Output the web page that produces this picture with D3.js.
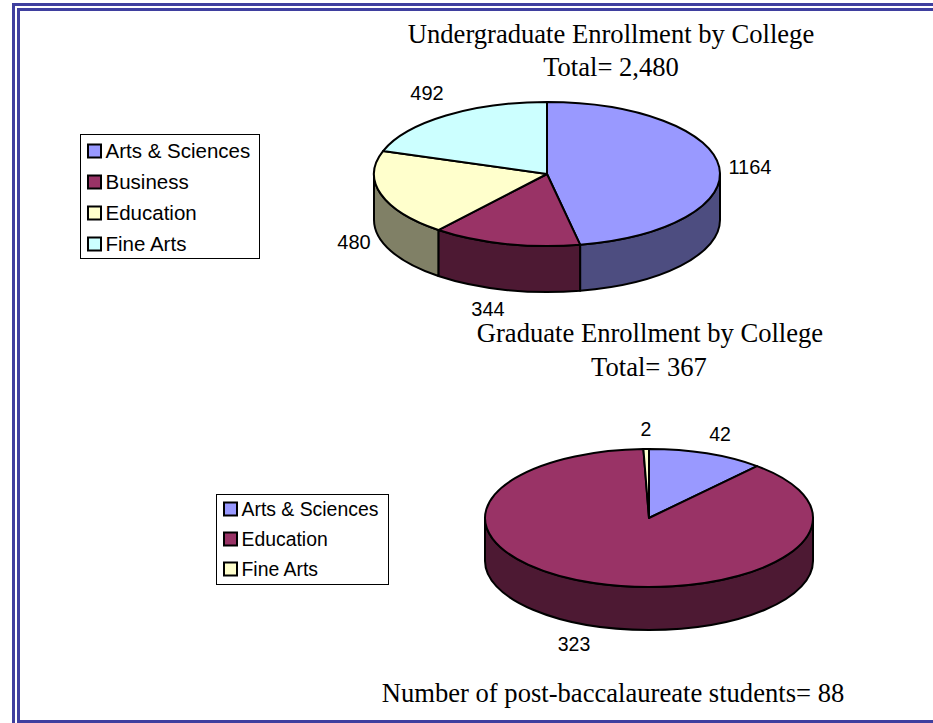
<!DOCTYPE html>
<html>
<head>
<meta charset="utf-8">
<script src="https://cdn.jsdelivr.net/npm/d3@7"></script>
<style>
  html, body { margin: 0; padding: 0; background: #fff; overflow: hidden; }
  svg { display: block; }
</style>
</head>
<body>
<div id="chart"></div>
<script>
// Data
const underCategories = ["Arts & Sciences", "Business", "Education", "Fine Arts"];
const underValues = [1164, 344, 480, 492];
const underColors = ["#9999ff", "#993366", "#ffffcc", "#ccffff"];
const underSides = ["#4d4d80", "#4d1933", "#808066", "#668080"];

const gradCategories = ["Arts & Sciences", "Education", "Fine Arts"];
const gradValues = [42, 323, 2];
const gradColors = ["#9999ff", "#993366", "#ffffcc"];
const gradSides = ["#4d4d80", "#4d1933", "#808066"];

const width = 933, height = 723;

const svg = d3.select("#chart")
  .append("svg")
  .attr("width", width)
  .attr("height", height);

// Double page border, right and bottom run off the page
svg.append("rect")
  .attr("x", 13.5).attr("y", 4.5)
  .attr("width", 960).attr("height", 760)
  .attr("fill", "none").attr("stroke", "#3f3f9f").attr("stroke-width", 3);
svg.append("rect")
  .attr("x", 18.5).attr("y", 9.5)
  .attr("width", 960).attr("height", 712)
  .attr("fill", "none").attr("stroke", "#3f3f9f").attr("stroke-width", 3);

// Flattened 3D pie, angles come from d3.pie
function drawPie(opts) {
  const g = svg.append("g").attr("transform", `translate(${opts.cx}, ${opts.cy})`);
  const arcs = d3.pie().sort(null)(opts.values);
  const px = a => opts.rx * Math.sin(a);
  const py = a => -opts.ry * Math.cos(a);

  function rimPath(a0, a1, dy) {
    const large = a1 - a0 > Math.PI ? 1 : 0;
    return `M${px(a0)},${py(a0) + dy}A${opts.rx},${opts.ry} 0 ${large} 1 ${px(a1)},${py(a1) + dy}`;
  }

  // Walls only on the front half of the ellipse
  arcs.forEach(function (d, i) {
    const a0 = Math.max(d.startAngle, Math.PI / 2);
    const a1 = Math.min(d.endAngle, 3 * Math.PI / 2);
    if (a1 <= a0) return;
    const top = rimPath(a0, a1, 0);
    const back = `A${opts.rx},${opts.ry} 0 ${a1 - a0 > Math.PI ? 1 : 0} 0 ${px(a0)},${py(a0) + opts.depth}`;
    g.append("path")
      .attr("d", `${top}L${px(a1)},${py(a1) + opts.depth}${back}Z`)
      .attr("fill", opts.sides[i])
      .attr("stroke", "#000").attr("stroke-width", 2).attr("stroke-linejoin", "round");
  });

  // Top faces
  arcs.forEach(function (d, i) {
    const large = d.endAngle - d.startAngle > Math.PI ? 1 : 0;
    g.append("path")
      .attr("d", `M0,0L${px(d.startAngle)},${py(d.startAngle)}A${opts.rx},${opts.ry} 0 ${large} 1 ${px(d.endAngle)},${py(d.endAngle)}Z`)
      .attr("fill", opts.colors[i])
      .attr("stroke", "#000").attr("stroke-width", 2).attr("stroke-linejoin", "round");
  });

  // Value labels
  opts.values.forEach(function (v, i) {
    svg.append("text")
      .attr("x", opts.labels[i][0]).attr("y", opts.labels[i][1])
      .attr("text-anchor", "middle")
      .attr("font-family", "Liberation Sans, Arial, sans-serif")
      .attr("font-size", opts.labelSize)
      .attr("fill", "#000")
      .text(v);
  });
}

function drawLegend(opts) {
  svg.append("rect")
    .attr("x", opts.x + 0.5).attr("y", opts.y + 0.5)
    .attr("width", opts.w).attr("height", opts.h)
    .attr("fill", "#fff").attr("stroke", "#000").attr("stroke-width", 1);
  const y = d3.scalePoint()
    .domain(opts.names)
    .range([opts.first, opts.first + opts.step * (opts.names.length - 1)]);
  opts.names.forEach(function (name, i) {
    svg.append("rect")
      .attr("x", opts.x + 8).attr("y", y(name) - 6.5)
      .attr("width", 13).attr("height", 13)
      .attr("fill", opts.colors[i]).attr("stroke", "#000").attr("stroke-width", 2);
    svg.append("text")
      .attr("x", opts.x + 25.5).attr("y", y(name) + 7)
      .attr("font-family", "Liberation Sans, Arial, sans-serif")
      .attr("font-size", opts.size)
      .attr("fill", "#000")
      .text(name);
  });
}

function title(text, x, y) {
  svg.append("text")
    .attr("x", x).attr("y", y)
    .attr("text-anchor", "middle")
    .attr("font-family", "Liberation Serif, Times New Roman, serif")
    .attr("font-size", 26.6)
    .attr("fill", "#000")
    .text(text);
}

drawPie({
  values: underValues, colors: underColors, sides: underSides,
  cx: 547, cy: 174, rx: 173, ry: 72, depth: 46, labelSize: 20,
  labels: [[750, 174], [488, 316], [354, 249], [427, 100]]
});
drawPie({
  values: gradValues, colors: gradColors, sides: gradSides,
  cx: 649, cy: 518, rx: 164, ry: 69, depth: 43, labelSize: 19.5,
  labels: [[720, 441], [574, 651], [646, 436]]
});

drawLegend({
  names: underCategories, colors: underColors,
  x: 80, y: 134, w: 179, h: 124, first: 151, step: 31, size: 20.5
});
drawLegend({
  names: gradCategories, colors: gradColors,
  x: 216, y: 494, w: 172, h: 90, first: 509, step: 30, size: 19.4
});

title("Undergraduate Enrollment by College", 611, 43);
title("Total= 2,480", 611, 76);
title("Graduate Enrollment by College", 650, 342);
title("Total= 367", 649, 376);
title("Number of post-baccalaureate students= 88", 613, 702);
</script>
</body>
</html>
